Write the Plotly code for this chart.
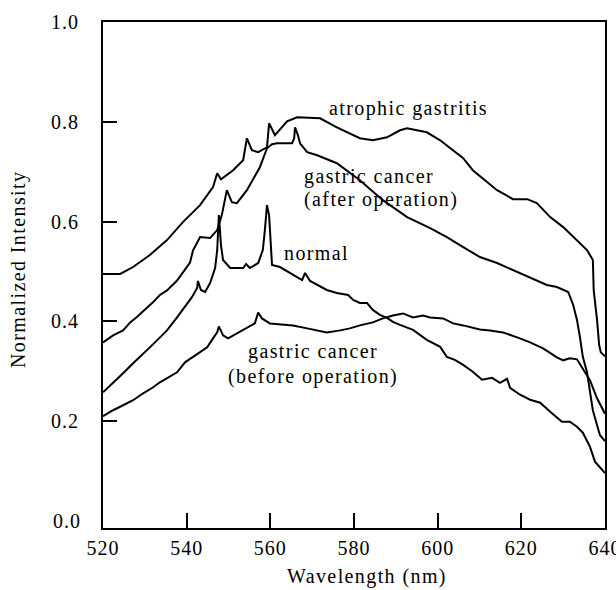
import plotly.graph_objects as go

# ---- data (wavelength nm, normalized intensity) ----
atrophic_x = [520.0, 524.1, 527.2, 531.2, 535.3, 539.1, 543.2, 546.3, 547.3, 548.2, 551.1, 553.5,
              554.4, 555.6, 557.1, 559.2, 559.7, 561.1, 564.0, 566.4, 571.9, 575.9, 581.4, 584.5,
              587.9, 591.0, 592.7, 597.4, 600.6, 603.7, 606.1, 608.4, 610.8, 614.2, 618.0, 621.4,
              623.7, 626.9, 630.0, 633.3, 635.7, 637.1, 637.3, 638.1, 638.6, 639.0, 640.0]
atrophic_y = [0.495, 0.495, 0.509, 0.533, 0.563, 0.599, 0.633, 0.669, 0.697, 0.685, 0.703, 0.723,
              0.767, 0.743, 0.739, 0.749, 0.797, 0.773, 0.801, 0.809, 0.807, 0.789, 0.767, 0.763,
              0.769, 0.783, 0.787, 0.779, 0.763, 0.743, 0.727, 0.703, 0.687, 0.663, 0.645, 0.645,
              0.637, 0.609, 0.589, 0.563, 0.543, 0.523, 0.462, 0.403, 0.353, 0.338, 0.330]

after_x = [520.0, 522.4, 524.8, 526.5, 528.1, 530.5, 532.0, 533.6, 535.3, 537.7, 539.1, 540.8,
           541.5, 543.2, 545.6, 547.3, 548.4, 549.6, 550.8, 552.0, 554.4, 557.5, 559.2, 560.4,
           561.6, 565.2, 565.7, 565.9, 566.6, 567.1, 568.8, 571.2, 575.9, 581.4, 586.9, 592.7,
           598.2, 602.2, 606.1, 610.1, 614.2, 618.0, 622.1, 626.1, 628.5, 631.2, 632.4, 633.3,
           634.0, 634.7, 635.7, 636.4, 637.1, 638.1, 638.8, 640.0]
after_y = [0.358, 0.372, 0.382, 0.398, 0.409, 0.427, 0.439, 0.453, 0.462, 0.482, 0.498, 0.518,
           0.542, 0.569, 0.567, 0.583, 0.613, 0.663, 0.639, 0.637, 0.663, 0.709, 0.747, 0.755,
           0.757, 0.757, 0.767, 0.789, 0.773, 0.757, 0.739, 0.733, 0.717, 0.683, 0.643, 0.609,
           0.587, 0.569, 0.549, 0.529, 0.517, 0.503, 0.489, 0.473, 0.469, 0.459, 0.433, 0.403,
           0.369, 0.329, 0.298, 0.262, 0.222, 0.192, 0.172, 0.160]

normal_x = [520.0, 522.4, 524.8, 527.2, 528.8, 531.2, 532.9, 535.3, 537.7, 540.1, 541.3, 542.5,
            542.7, 543.4, 544.4, 545.6, 546.8, 547.3, 547.7, 548.2, 548.7, 550.4, 553.5, 554.2,
            555.1, 557.1, 558.2, 558.7, 559.2, 559.7, 560.4, 562.3, 565.4, 567.6, 568.3, 569.5,
            573.5, 575.9, 578.6, 579.8, 581.4, 583.1, 584.5, 586.2, 587.9, 589.3, 591.0, 594.1,
            597.4, 600.6, 602.2, 604.1, 606.1, 608.4, 610.6, 613.0, 614.9, 616.6, 617.3, 619.7,
            622.1, 624.5, 626.9, 629.7, 631.6, 633.3, 634.7, 636.4, 637.6, 640.0]
normal_y = [0.258, 0.276, 0.296, 0.316, 0.328, 0.348, 0.362, 0.382, 0.408, 0.436, 0.449, 0.467,
            0.481, 0.463, 0.459, 0.477, 0.507, 0.543, 0.613, 0.553, 0.523, 0.507, 0.507, 0.515,
            0.507, 0.517, 0.543, 0.583, 0.633, 0.613, 0.513, 0.509, 0.493, 0.483, 0.497, 0.481,
            0.463, 0.457, 0.453, 0.443, 0.437, 0.437, 0.423, 0.413, 0.407, 0.399, 0.393, 0.383,
            0.363, 0.349, 0.329, 0.323, 0.313, 0.299, 0.283, 0.287, 0.277, 0.285, 0.267, 0.253,
            0.243, 0.237, 0.219, 0.199, 0.199, 0.189, 0.177, 0.149, 0.119, 0.096]

before_x = [520.0, 522.4, 524.8, 527.2, 529.6, 532.0, 533.6, 535.3, 537.7, 539.6, 542.5, 544.9,
            546.3, 547.3, 547.7, 548.7, 549.9, 552.0, 554.4, 556.3, 557.1, 558.0, 559.9, 563.0,
            565.4, 568.8, 573.5, 576.7, 579.0, 581.4, 584.5, 586.9, 589.3, 591.7, 594.1, 596.5,
            598.2, 601.3, 603.7, 606.1, 610.1, 612.5, 615.6, 619.0, 622.1, 625.2, 628.5, 630.0,
            631.6, 633.3, 634.7, 636.4, 638.1, 640.0]
before_y = [0.210, 0.222, 0.232, 0.242, 0.256, 0.268, 0.278, 0.286, 0.298, 0.318, 0.334, 0.348,
            0.366, 0.378, 0.390, 0.372, 0.366, 0.376, 0.386, 0.396, 0.418, 0.406, 0.396, 0.394,
            0.392, 0.386, 0.378, 0.382, 0.386, 0.392, 0.398, 0.406, 0.412, 0.416, 0.408, 0.412,
            0.408, 0.406, 0.396, 0.392, 0.384, 0.382, 0.378, 0.368, 0.358, 0.346, 0.328, 0.322,
            0.326, 0.324, 0.306, 0.282, 0.246, 0.215]

x_ticks = [520, 540, 560, 580, 600, 620, 640]
y_ticks = [0.2, 0.4, 0.6, 0.8, 1.0]
y_tick_labels = ["0.2", "0.4", "0.6", "0.8", "1.0"]

FONT = "Liberation Serif, Times New Roman, serif"


def sp(t, s=1.4):
    return f'<span style="letter-spacing:{s}px">{t}</span>'


fig = go.Figure()
for name, xs, ys in [("atrophic gastritis", atrophic_x, atrophic_y),
                     ("gastric cancer (after operation)", after_x, after_y),
                     ("normal", normal_x, normal_y),
                     ("gastric cancer (before operation)", before_x, before_y)]:
    fig.add_trace(go.Scatter(x=xs, y=ys, mode="lines", name=name,
                             line=dict(color="black", width=2), showlegend=False))

fig.update_layout(
    width=616, height=590,
    margin=dict(l=103, r=11, t=22, b=62),
    paper_bgcolor="white", plot_bgcolor="white",
    font=dict(family=FONT, size=20, color="black"),
    xaxis=dict(range=[520, 640], tickvals=x_ticks,
               ticktext=[sp(str(v), 1) for v in x_ticks],
               ticks="inside", ticklen=15, tickwidth=1.5, tickcolor="black",
               showline=True, linecolor="black", linewidth=2, mirror=True,
               showgrid=False, zeroline=False, ticklabelstandoff=1, automargin=False,
               ticklabeloverflow="allow",
               tickfont=dict(family=FONT, size=20, color="black")),
    yaxis=dict(range=[-0.014, 1.0], tickvals=y_ticks,
               ticktext=[sp(t, 1) for t in y_tick_labels],
               ticks="inside", ticklen=14, tickwidth=1.5, tickcolor="black",
               showline=True, linecolor="black", linewidth=2, mirror=True,
               showgrid=False, zeroline=False, ticklabelstandoff=18, automargin=False,
               ticklabeloverflow="allow",
               tickfont=dict(family=FONT, size=20, color="black")),
)

ann_font = dict(family=FONT, size=20, color="black")
# zero label (no tick mark drawn at 0.0 in the reference)
fig.add_annotation(text=sp("0.0", 1), xref="paper", x=0, xanchor="right", xshift=-20,
                   yref="y", y=0, yanchor="middle", showarrow=False, font=ann_font)
# axis titles
fig.add_annotation(text=sp("Wavelength (nm)"), xref="paper", x=0.526, xanchor="center",
                   yref="paper", y=0, yanchor="middle", yshift=-48, showarrow=False, font=ann_font)
fig.add_annotation(text=sp("Normalized Intensity"), xref="paper", x=0, xanchor="center",
                   xshift=-85, yref="paper", y=0.5, yanchor="middle", yshift=5,
                   textangle=-90, showarrow=False, font=ann_font)
# curve labels
fig.add_annotation(text=sp("atrophic gastritis"), x=593.1, y=0.826, xanchor="center",
                   yanchor="middle", showarrow=False, font=ann_font)
fig.add_annotation(text=sp("gastric cancer"), x=567.6, y=0.691, xanchor="left",
                   yanchor="middle", showarrow=False, font=ann_font)
fig.add_annotation(text=sp("(after operation)"), x=567.6, y=0.645, xanchor="left",
                   yanchor="middle", showarrow=False, font=ann_font)
fig.add_annotation(text=sp("normal"), x=562.8, y=0.538, xanchor="left",
                   yanchor="middle", showarrow=False, font=ann_font)
fig.add_annotation(text=sp("gastric cancer"), x=570.2, y=0.340, xanchor="center",
                   yanchor="middle", showarrow=False, font=ann_font)
fig.add_annotation(text=sp("(before operation)"), x=570.2, y=0.290, xanchor="center",
                   yanchor="middle", showarrow=False, font=ann_font)

fig.write_html("out.html", config={"displayModeBar": False},
               post_script="document.body.style.margin='0px';document.body.style.overflow='hidden';")
